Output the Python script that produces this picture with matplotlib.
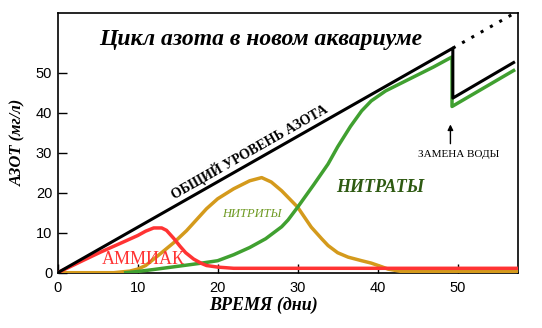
import matplotlib
matplotlib.use("Agg")
import matplotlib.pyplot as plt

# total nitrogen (black), with water change at ~49.4 days
total_x = [0, 49.4, 49.4, 57]
total_y = [0, 56.2, 43.7, 52.6]
trend_x = [49.4, 57.5]
trend_y = [56.2, 65.4]

# ammonia (red)
ammonia_x = [0, 3, 5.3, 8, 10, 11, 12, 13, 13.6, 14.5, 15.3, 16, 17, 18, 18.6, 20, 22, 57.5]
ammonia_y = [0, 2.9, 5.1, 7.5, 9.3, 10.4, 11.2, 11.2, 10.6, 8.6, 6.6, 5.0, 3.4, 2.3, 1.8, 1.4, 1.1, 1.1]

# nitrites (orange)
nitrite_x = [0, 7, 9, 10, 11, 12.8, 14.5, 16.1, 18.6, 20, 22, 24, 25.5, 26.7, 28, 30,
             31.7, 33, 33.8, 35, 36.3, 38, 39.2, 40.5, 41.3, 43, 57.5]
nitrite_y = [0, 0, 0.4, 0.9, 1.8, 4.7, 7.5, 10.5, 16, 18.5, 21, 23, 23.8, 22.7, 20.5, 16.4,
             11.4, 8.5, 6.8, 5.0, 3.9, 3.0, 2.4, 1.5, 0.9, 0.3, 0.3]

# nitrates (green)
nitrate_x = [8.5, 10, 12, 15, 18, 20, 22, 24, 26, 28, 28.8, 30, 32, 33.8, 35, 36.6, 38,
             39.2, 41, 43, 45, 47, 49.3, 49.3, 57]
nitrate_y = [0, 0.3, 0.8, 1.6, 2.4, 3.0, 4.5, 6.3, 8.5, 11.5, 13.2, 16.4, 22, 27.2, 31.5,
             36.6, 40.5, 43, 45.5, 47.5, 49.5, 51.5, 54, 41.6, 50.6]

xticks = [0, 10, 20, 30, 40, 50]
yticks = [0, 10, 20, 30, 40, 50]

serif = "Liberation Serif"

fig = plt.figure(figsize=(5.42, 3.28), dpi=100)
ax = fig.add_axes([0.1065, 0.1686, 0.8485, 0.7918])

ax.plot(nitrite_x, nitrite_y, color="#d49a1c", lw=2.5, zorder=3)
ax.plot(nitrate_x, nitrate_y, color="#40a030", lw=2.5, zorder=4)
ax.plot(ammonia_x, ammonia_y, color="#ff3333", lw=2.5, zorder=5)
ax.plot(total_x, total_y, color="black", lw=2.2, zorder=6)
ax.plot(trend_x, trend_y, color="black", lw=2.2, dashes=(1, 2.5), zorder=6)

ax.set_xlim(0, 57.5)
ax.set_ylim(0, 65)
ax.set_xticks(xticks)
ax.set_yticks(yticks)
ax.tick_params(direction="in", length=6.5, width=1, labelsize=10.5)
ax.tick_params(axis="x", pad=6)
ax.tick_params(axis="y", pad=4)
for lbl in ax.get_xticklabels() + ax.get_yticklabels():
    lbl.set_fontfamily("Liberation Sans")
for sp in ax.spines.values():
    sp.set_linewidth(1.2)

ax.set_ylabel("АЗОТ (мг/л)", family=serif, weight="bold", style="italic",
              fontsize=12, labelpad=7)
fig.text(264 / 542, 1 - 305 / 328, "ВРЕМЯ (дни)", family=serif, weight="bold",
         style="italic", fontsize=13, ha="center", va="center")

ax.text(25.4, 58.3, "Цикл азота в новом аквариуме", family=serif, weight="bold",
        style="italic", fontsize=17, ha="center", va="center")
ax.text(24.0, 30.3, "ОБЩИЙ УРОВЕНЬ АЗОТА", family=serif, weight="bold",
        fontsize=10, rotation=29.6, rotation_mode="anchor", ha="center", va="center")
ax.text(34.8, 21.3, "НИТРАТЫ", family=serif, weight="bold", style="italic",
        fontsize=13, color="#2e5a12", ha="left", va="center")
ax.text(20.6, 14.6, "НИТРИТЫ", family=serif, style="italic", fontsize=9,
        color="#6e9a22", ha="left", va="center")
ax.text(5.5, 3.4, "АММИАК", family=serif, fontsize=13, color="#ff3333",
        ha="left", va="center")
ax.text(50.1, 29.5, "ЗАМЕНА ВОДЫ", family=serif, fontsize=8, ha="center", va="center")
ax.annotate("", xy=(49.1, 37.8), xytext=(49.1, 31.6),
            arrowprops=dict(arrowstyle="-|>", color="black", lw=1, mutation_scale=8))

fig.savefig("out.png", dpi=100, facecolor="white")
